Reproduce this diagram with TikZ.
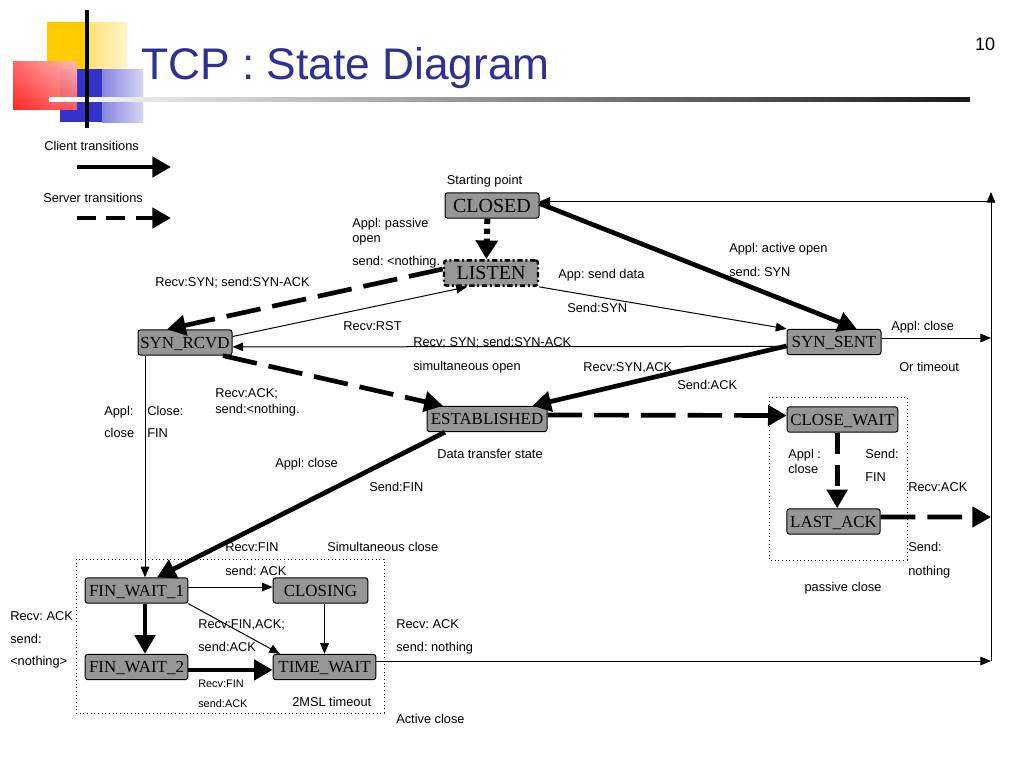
\documentclass[tikz,border=0pt]{standalone}
\usepackage{fontspec}
\setmainfont{Liberation Sans}
\newfontfamily\statefont{Liberation Serif}
\usetikzlibrary{arrows.meta,shadings}
\definecolor{titleblue}{RGB}{46,49,146}
\definecolor{logoyellow}{RGB}{255,204,0}
\definecolor{logoblue}{RGB}{51,51,204}
\definecolor{logored}{RGB}{255,30,30}
\definecolor{stategray}{RGB}{150,150,150}
\frenchspacing

\begin{document}
\begin{tikzpicture}[x=0.75pt, y=-0.75pt,
    every node/.style={inner sep=0pt, text height=6.9pt, text depth=0pt, font=\fontsize{9.6}{11}\selectfont},
    lab/.style={anchor=west},
    small/.style={anchor=west, text height=5.9pt, font=\fontsize{8.2}{9}\selectfont},
    state/.style={draw, line width=0.75pt, fill=stategray, rounded corners=2pt, minimum height=19pt,
      inner xsep=1pt, text height=8.4pt, font=\statefont\fontsize{12.7}{14}\selectfont},
    big/.style={text height=9.9pt, font=\statefont\fontsize{15}{17}\selectfont},
    client/.style={line width=3.5pt, -{Triangle[length=14pt, width=15pt]}},
    server/.style={client, dash pattern=on 26pt off 9pt},
    thin/.style={line width=0.75pt, -{Triangle[length=8pt, width=6.5pt]}},
    frame/.style={dotted, line width=0.75pt}]
  \useasboundingbox (0,0) rectangle (1024,768);
  \fill[white] (0,0) rectangle (1024,768);

  \fill[logoyellow] (47,22) rectangle (88,70);
  \shade[left color=logoyellow!55, right color=logoyellow!20] (88,22) rectangle (127,70);
  \fill[logoblue] (60,69) rectangle (102,122);
  \shade[left color=logoblue!60, right color=logoblue!20] (102,69) rectangle (143,122);
  \shade[lower left=logored, upper right=logored!30, upper left=logored!70, lower right=logored!70, opacity=0.95] (13,61) rectangle (77,109);
  \shade[left color=white, right color=black!90] (49,97.5) rectangle (970,101.5);
  \draw[line width=3pt] (87,10) -- (87,128);
  \node[anchor=base west, text=titleblue, font=\fontsize{33.2}{36}\selectfont] (title) at (141,79) {TCP : State Diagram};
  \node[anchor=base, font=\fontsize{13.5}{15}\selectfont] (page) at (985,50) {10};

  \node[lab] (client) at (44,146) {Client transitions};
  \coordinate (c1) at (77,167);
  \coordinate (c2) at (171,167);
  \draw[client] (c1) -- (c2);
  \node[lab] (server) at (43,198) {Server transitions};
  \coordinate (s1) at (77,218);
  \coordinate (s2) at (171,218);
  \draw[client, dash pattern=on 14pt off 8pt] (s1) -- (s2);

  \draw[frame] (76,559) rectangle (384,713);
  \draw[frame] (769,397) rectangle (907,560);

  \node[state, big, minimum width=70.5pt] (CLOSED) at (492,205.5) {CLOSED};
  \node[state, big, minimum width=70.5pt, line width=1.8pt, dash pattern=on 4pt off 2pt on 1.5pt off 2pt] (LISTEN) at (491,273) {LISTEN};
  \node[state, minimum width=70.5pt] (SYNRCVD) at (185,342.5) {SYN\_RCVD};
  \node[state, minimum width=70.5pt] (SYNSENT) at (834,342) {SYN\_SENT};
  \node[state, minimum width=90pt] (ESTAB) at (487,419) {ESTABLISHED};
  \node[state, minimum width=83pt] (CLOSEWAIT) at (842.5,419.5) {CLOSE\_WAIT};
  \node[state, minimum width=70pt] (LASTACK) at (833.5,521.5) {LAST\_ACK};
  \node[state, minimum width=77pt] (FINWAIT1) at (136.5,590.5) {FIN\_WAIT\_1};
  \node[state, minimum width=71pt] (CLOSING) at (320.5,590.5) {CLOSING};
  \node[state, minimum width=77pt] (FINWAIT2) at (136.5,667) {FIN\_WAIT\_2};
  \node[state, minimum width=77pt] (TIMEWAIT) at (324.5,667) {TIME\_WAIT};

  \coordinate (SSout) at (991,338);
  \coordinate (LAout) at (991,517);
  \coordinate (TWout) at (991,661);
  \coordinate (Rtop) at (991,192);
  \coordinate (Rcl) at (991,201.5);

  \draw[line width=4.5pt, dash pattern=on 4pt off 3.5pt, -{Triangle[length=14pt, width=16pt]}]
    ([xshift=-3.5pt]CLOSED.south) -- ([xshift=-3.5pt]LISTEN.north);
  \draw[client] ([yshift=1.5pt]CLOSED.east) -- ([xshift=17pt]SYNSENT.north);
  \draw[server] ([yshift=3pt]LISTEN.west) -- ([xshift=-13.5pt]SYNRCVD.north);
  \draw[thin] ([yshift=4.5pt]SYNRCVD.east) -- ([xshift=-18pt]LISTEN.south);
  \draw[thin] (LISTEN.south east) -- (SYNSENT.north west);
  \draw[thin] ([yshift=-3.3pt]SYNSENT.west) -- ([yshift=-3.3pt]SYNRCVD.east);
  \draw[client] ([yshift=-3pt]SYNSENT.west) -- ([xshift=34pt]ESTAB.north);
  \draw[server] ([xshift=28.5pt]SYNRCVD.south) -- ([xshift=-33pt]ESTAB.north);
  \draw[server] ([yshift=3pt]ESTAB.east) -- ([yshift=3pt]CLOSEWAIT.west);
  \draw[server, dash pattern=on 16pt off 8pt] ([xshift=-4pt]CLOSEWAIT.south) -- ([xshift=-4pt]CLOSEWAIT.south |- LASTACK.north);
  \draw[server] ([yshift=3.4pt]LASTACK.east) -- (LAout);
  \draw[thin] ([yshift=3pt]SYNSENT.east) -- (SSout);
  \draw[client] ([xshift=-31.5pt]ESTAB.south) -- ([xshift=15.4pt]FINWAIT1.north);
  \draw[thin] ([xshift=-30pt]SYNRCVD.south) -- ([xshift=-30pt]SYNRCVD.south |- FINWAIT1.north);
  \draw[client] ([xshift=6.4pt]FINWAIT1.south) -- ([xshift=6.4pt]FINWAIT2.north);
  \draw[thin] ([yshift=2.6pt]FINWAIT1.east) -- ([yshift=2.6pt]CLOSING.west);
  \draw[thin] (FINWAIT1.south east) -- ([xshift=-33.4pt]TIMEWAIT.north);
  \draw[thin] (CLOSING.south -| TIMEWAIT.north) -- (TIMEWAIT.north);
  \draw[client] ([yshift=-2.2pt]FINWAIT2.east) -- ([yshift=-2.2pt]TIMEWAIT.west);
  \draw[thin] ([yshift=4.5pt]TIMEWAIT.east) -- (TWout);
  \draw[thin] (TWout) -- (Rtop);
  \draw[thin] (Rcl) -- ([yshift=3pt]CLOSED.east);

  \node (start) at (484.5,180) {Starting point};
  \node[lab] (pas1) at (352,223) {Appl: passive};
  \node[lab] (pas2) at (352,238) {open};
  \node[lab] (pas3) at (352,261) {send: <nothing.};
  \node[lab] (synack1) at (155,282) {Recv:SYN; send:SYN-ACK};
  \node[lab] (rst) at (343,326) {Recv:RST};
  \node[lab] (synack2) at (413,342) {Recv: SYN; send:SYN-ACK};
  \node[lab] (simopen) at (413,366) {simultaneous open};
  \node[lab] (act1) at (729,248) {Appl: active open};
  \node[lab] (act2) at (729,272) {send: SYN};
  \node[lab] (data1) at (558,274) {App: send data};
  \node[lab] (data2) at (567,308) {Send:SYN};
  \node[lab] (ssclose1) at (891,326) {Appl: close};
  \node[lab] (ssclose2) at (899,367) {Or timeout};
  \node[lab] (sa1) at (583,367) {Recv:SYN,ACK};
  \node[lab] (sa2) at (677,385) {Send:ACK};
  \node[lab] (ack1) at (215,393) {Recv:ACK;};
  \node[lab] (ack2) at (215,409) {send:<nothing.};
  \node[lab] (rc1) at (104,411) {Appl:};
  \node[lab] (rc2) at (104,433) {close};
  \node[lab] (rc3) at (147,411) {Close:};
  \node[lab] (rc4) at (147,433) {FIN};
  \node (dts) at (490,454) {Data transfer state};
  \node[lab] (ec1) at (275,463) {Appl: close};
  \node[lab] (ec2) at (369,487) {Send:FIN};
  \node[lab] (cw1) at (788,454) {Appl :};
  \node[lab] (cw2) at (788,469) {close};
  \node[lab] (cw3) at (865,454) {Send:};
  \node[lab] (cw4) at (865,477) {FIN};
  \node[lab] (la1) at (908,487) {Recv:ACK};
  \node[lab] (la2) at (908,547) {Send:};
  \node[lab] (la3) at (908,571) {nothing};
  \node (passive) at (843,587) {passive close};
  \node[lab] (fw1) at (225,547) {Recv:FIN};
  \node[lab] (fw2) at (225,571) {send: ACK};
  \node[lab] (simclose) at (327,547) {Simultaneous close};
  \node[lab] (fa1) at (198,624) {Recv:FIN,ACK;};
  \node[lab] (fa2) at (198,647) {send:ACK};
  \node[lab] (tw1) at (396,624) {Recv: ACK};
  \node[lab] (tw2) at (396,647) {send: nothing};
  \node[small] (f21) at (198,684) {Recv:FIN};
  \node[small] (f22) at (198,704) {send:ACK};
  \node[lab] (msl) at (292,702) {2MSL timeout};
  \node[lab] (active) at (396,719) {Active close};
  \node[lab] (fwl1) at (10,616) {Recv: ACK};
  \node[lab] (fwl2) at (10,639) {send:};
  \node[lab] (fwl3) at (10,661) {<nothing>};
\end{tikzpicture}
\end{document}
